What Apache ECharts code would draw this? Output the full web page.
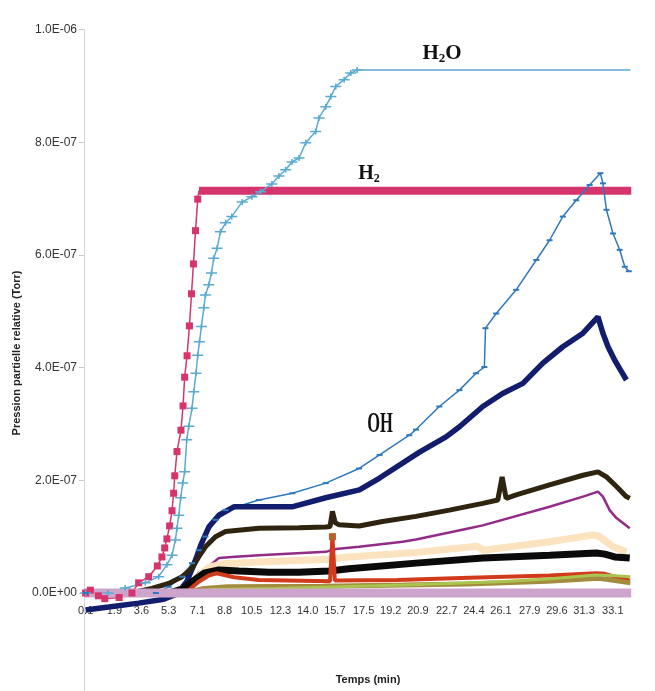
<!DOCTYPE html>
<html>
<head>
<meta charset="utf-8">
<script src="https://cdn.jsdelivr.net/npm/echarts@6/dist/echarts.min.js"></script>
<style>
html,body{margin:0;padding:0;background:#fff;}
#chart{width:655px;height:691px;}
</style>
</head>
<body>
<div id="chart"></div>
<script>
// Values in units of 1e-7 Torr, time in minutes
const xLabelTimes = [0.1,1.9,3.6,5.3,7.1,8.8,10.5,12.3,14.0,15.7,17.5,19.2,20.9,22.7,24.4,26.1,27.9,29.6,31.3,33.1];

const h2 = [[0.1,0],[0.4,0.05],[0.9,-0.05],[1.3,-0.1],[2.2,-0.08],[3.0,0.0],[3.42,0.18],[4.05,0.29],[4.59,0.48],[4.88,0.64],[5.05,0.80],[5.19,0.96],[5.36,1.19],[5.51,1.46],[5.61,1.77],[5.68,2.08],[5.82,2.51],[6.07,2.89],[6.2,3.32],[6.3,3.83],[6.45,4.21],[6.6,4.74],[6.73,5.31],[6.85,5.84],[6.98,6.43],[7.12,6.99],[7.2,7.14],[34.25,7.14]];

const h2o = [[0.1,0],[1.5,0],[2.58,0.09],[3.84,0.18],[4.67,0.29],[5.19,0.50],[5.51,0.67],[5.72,0.94],[5.82,1.15],[5.93,1.38],[6.05,1.69],[6.18,1.95],[6.30,2.15],[6.43,2.72],[6.56,2.96],[6.76,3.28],[6.87,3.57],[7.01,3.90],[7.12,4.22],[7.23,4.46],[7.35,4.73],[7.50,5.06],[7.60,5.29],[7.81,5.47],[7.98,5.68],[8.12,5.94],[8.33,6.12],[8.54,6.41],[8.86,6.57],[9.25,6.68],[9.90,6.94],[10.51,7.03],[11.05,7.12],[11.76,7.26],[12.2,7.40],[12.62,7.51],[13.02,7.65],[13.46,7.72],[13.88,7.99],[14.5,8.19],[14.71,8.43],[15.13,8.63],[15.45,8.81],[15.76,8.99],[16.28,9.11],[16.70,9.23],[17.1,9.28],[34.2,9.28]];

const blueMid = [[0.1,0],[4.5,0],[5.30,0.11],[6.14,0.29],[6.76,0.53],[7.18,0.76],[7.60,1.00],[8.23,1.30],[8.86,1.47],[10.94,1.65],[13.04,1.77],[15.13,1.95],[17.22,2.21],[18.5,2.45],[20.36,2.80],[20.78,2.90],[22.24,3.31],[23.5,3.60],[24.54,3.90],[25.06,4.01],[25.13,4.70],[25.8,4.96],[27.05,5.38],[28.31,5.91],[29.14,6.26],[29.97,6.68],[30.81,6.97],[31.65,7.24],[32.32,7.45],[32.48,7.27],[32.7,6.80],[33.11,6.38],[33.53,6.09],[33.85,5.79],[34.1,5.71]];

const navy = [[0.1,-0.30],[1.54,-0.25],[3.42,-0.18],[4.99,-0.11],[5.80,-0.02],[6.43,0.20],[6.87,0.50],[7.31,0.85],[7.81,1.17],[8.44,1.38],[9.38,1.53],[10.95,1.53],[13.02,1.53],[15.13,1.69],[17.24,1.83],[18.5,2.04],[21.0,2.50],[22.66,2.77],[23.5,2.95],[24.96,3.31],[26.2,3.54],[27.47,3.72],[28.72,4.08],[29.97,4.37],[31.23,4.61],[32.17,4.90],[32.48,4.61],[32.8,4.37],[33.22,4.13],[33.64,3.93],[33.95,3.78]];

const brown = [[0.1,0],[3.21,0.02],[4.25,0.08],[5.30,0.17],[6.14,0.29],[6.76,0.44],[7.18,0.64],[7.60,0.82],[8.23,1.00],[8.86,1.09],[10.95,1.15],[13.45,1.16],[15.13,1.17],[15.40,1.18],[15.55,1.45],[15.72,1.25],[15.97,1.21],[17.22,1.19],[18.68,1.27],[20.78,1.36],[22.87,1.47],[24.96,1.59],[25.9,1.65],[26.17,2.06],[26.42,1.68],[27.05,1.74],[29.14,1.92],[31.23,2.09],[32.17,2.15],[32.7,2.06],[33.33,1.89],[33.95,1.71],[34.16,1.68]];

const purple = [[0.1,0],[5.3,0],[6.35,0.11],[6.76,0.23],[7.18,0.36],[7.81,0.47],[8.44,0.62],[9.27,0.64],[10.95,0.67],[13.04,0.70],[15.13,0.73],[15.76,0.78],[17.22,0.82],[19.94,0.91],[20.78,0.95],[24.12,1.15],[24.96,1.20],[29.14,1.53],[31.23,1.71],[32.17,1.80],[32.48,1.71],[32.9,1.47],[33.33,1.33],[34.16,1.15]];

const peach = [[0.1,0],[5.3,0],[6.56,0.10],[7.18,0.30],[7.81,0.46],[8.75,0.52],[10.95,0.55],[15.33,0.60],[16.58,0.64],[20.78,0.72],[24.59,0.83],[25.01,0.76],[29.14,0.91],[31.86,1.03],[32.28,1.00],[33.11,0.82],[33.95,0.73]];

const black = [[0.1,0],[5.3,0],[6.24,0.08],[6.87,0.22],[7.5,0.35],[8.44,0.41],[9.69,0.39],[11.57,0.37],[13.45,0.37],[15.33,0.39],[16.58,0.43],[20.78,0.53],[24.96,0.62],[29.14,0.67],[32.07,0.71],[32.6,0.69],[33.22,0.64],[34.16,0.62]];

const red = [[0.1,0],[5.3,0],[6.56,0.05],[7.18,0.20],[7.81,0.31],[8.31,0.35],[9.38,0.28],[10.95,0.23],[15.4,0.21],[15.55,1.0],[15.7,0.22],[19.6,0.23],[24.12,0.27],[29.14,0.31],[32.09,0.35],[32.6,0.34],[34.16,0.22]];

const olive = [[0.1,0],[6.3,0],[7.5,0.08],[9.0,0.11],[15.0,0.12],[20.0,0.14],[24.0,0.16],[29.0,0.21],[32.2,0.26],[32.8,0.24],[34.2,0.18]];

const green = [[0.1,0],[6.5,0],[8.0,0.06],[12.0,0.08],[20.0,0.14],[26.0,0.20],[29.0,0.25],[32.0,0.32],[33.0,0.31],[34.2,0.29]];

const lilac = [[0,0],[34.25,0]];

function fmtExp(v) {
  if (v < 0) return '';
  if (v === 0) return '0.0E+00';
  const x = v * 1e-7;
  const e = Math.floor(Math.log10(x) + 1e-9);
  const m = x / Math.pow(10, e);
  return m.toFixed(1) + 'E' + (e < 0 ? '-' : '+') + String(Math.abs(e)).padStart(2, '0');
}

function line(name, data, color, width, extra) {
  return Object.assign({
    type: 'line', name: name, data: data, symbol: 'none', showAllSymbol: true,
    lineStyle: { color: color, width: width }, itemStyle: { color: color },
    animation: false, z: 2
  }, extra || {});
}

const plateauStart = h2.findIndex(p => p[1] >= 7.1);
const h2Rise = h2.map((p, i) => i >= plateauStart ? { value: p, symbol: 'none' } : p);
const h2oPlateau = h2o.findIndex(p => p[1] >= 9.28);
const h2oPts = h2o.map((p, i) => i >= h2oPlateau + 1 ? { value: p, symbol: 'none' } : p);
const redPts = red.map(p => p[1] >= 0.9 ? { value: p, symbol: 'rect', symbolSize: 7, itemStyle: { color: '#b8602a' } } : p);

const crossPath = 'path://M0,3L14,3L14,5L0,5ZM6,0L8,0L8,8L6,8Z';
const dashPath = 'path://M0,0L6,0L6,2L0,2Z';

// geometry: y=10 at 29.5px, y=0 at 593px -> 56.35 px per unit; y=-2 at 705.7px
const gridTop = 29.5, gridBottomPx = 705.7, zeroPx = 593;

const chart = echarts.init(document.getElementById('chart'), null, { renderer: 'canvas' });
chart.setOption({
  backgroundColor: '#ffffff',
  animation: false,
  grid: { left: 84, right: 23, top: gridTop, bottom: 691 - gridBottomPx, containLabel: false, outerBoundsMode: 'none' },
  xAxis: {
    type: 'value', min: 0, max: 34.3,
    position: 'bottom',
    offset: -(gridBottomPx - zeroPx),
    axisLine: { show: false, onZero: false },
    axisTick: { show: false },
    splitLine: { show: false },
    axisLabel: {
      customValues: xLabelTimes,
      formatter: v => v.toFixed(1),
      fontFamily: 'Liberation Sans', fontSize: 11, color: '#333', margin: 12
    }
  },
  yAxis: {
    type: 'value', min: -2, max: 10, interval: 2,
    axisLine: { show: true, onZero: false, lineStyle: { color: '#d6d6d6', width: 1 } },
    axisTick: { show: true, length: 5, lineStyle: { color: '#c8c8c8' } },
    splitLine: { show: false },
    axisLabel: { formatter: fmtExp, fontFamily: 'Liberation Sans', fontSize: 12, color: '#333', margin: 7 }
  },
  series: [
    line('H2', h2Rise, '#d6346c', 1.5, { symbol: 'rect', symbolSize: 7 }),
    line('H2 plateau', h2.slice(plateauStart), '#d6346c', 8),
    line('H2O', h2oPts, '#5aaad3', 1.5, { symbol: crossPath, symbolSize: [11, 6] }),
    line('m/z b', blueMid, '#2f78bd', 1.5, { symbol: dashPath, symbolSize: [6, 2] }),
    line('OH', navy, '#121d6e', 5.5),
    line('brown', brown, '#2e2410', 5),
    line('purple', purple, '#922c88', 2.5),
    line('peach', peach, '#fbe3bf', 7),
    line('black', black, '#0a0a0a', 7),
    line('red', redPts, '#d23a1c', 4),
    line('olive', olive, '#a38c3e', 5),
    line('green', green, '#a9c44f', 3),
    line('lilac', lilac, '#cda4cc', 9)
  ],
  graphic: [
    { type: 'text', x: 17, y: 353, rotation: Math.PI / 2, z: 100,
      style: { text: 'Pression partielle relative (Torr)', font: 'bold 11px "Liberation Sans"', fill: '#222', align: 'center', verticalAlign: 'middle' } },
    { type: 'text', x: 368, y: 680, z: 100,
      style: { text: 'Temps (min)', font: 'bold 11px "Liberation Sans"', fill: '#222', align: 'center', verticalAlign: 'middle' } },
    { type: 'text', x: 442, y: 54, z: 100,
      style: { text: '{a|H}{b|2}{a|O}', align: 'center', verticalAlign: 'middle',
        rich: { a: { fontFamily: 'Liberation Serif', fontWeight: 'bold', fontSize: 21, fill: '#111', lineHeight: 22 },
                b: { fontFamily: 'Liberation Serif', fontWeight: 'bold', fontSize: 13, fill: '#111', lineHeight: 22, verticalAlign: 'bottom', padding: [8, 0, 0, 0] } } } },
    { type: 'text', x: 369, y: 174, z: 100,
      style: { text: '{a|H}{b|2}', align: 'center', verticalAlign: 'middle',
        rich: { a: { fontFamily: 'Liberation Serif', fontWeight: 'bold', fontSize: 20, fill: '#111', lineHeight: 22 },
                b: { fontFamily: 'Liberation Serif', fontWeight: 'bold', fontSize: 12, fill: '#111', lineHeight: 22, verticalAlign: 'bottom', padding: [8, 0, 0, 0] } } } },
    { type: 'text', x: 380, y: 424, scaleX: 0.55, z: 100,
      style: { text: 'OH', font: 'bold 30px "Liberation Serif"', fill: '#111', align: 'center', verticalAlign: 'middle' } }
  ]
});
</script>
</body>
</html>
